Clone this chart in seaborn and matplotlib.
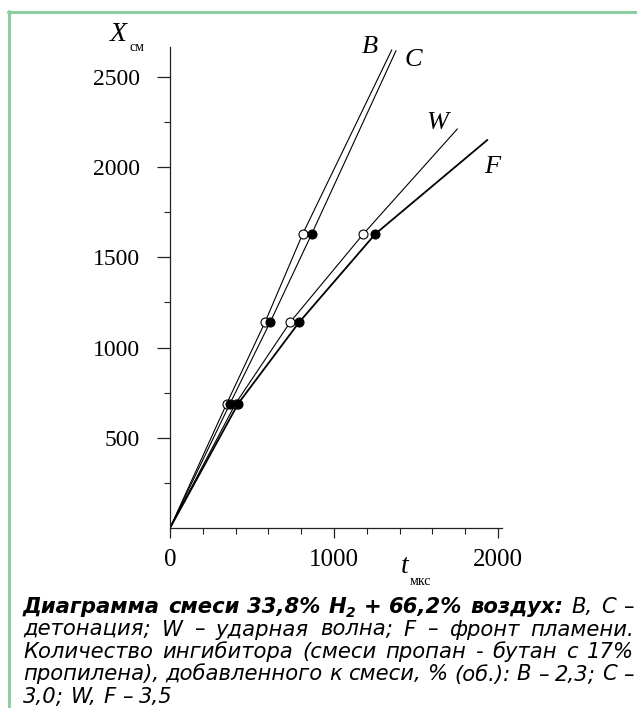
import matplotlib
matplotlib.use("Agg")
import matplotlib.pyplot as plt
from matplotlib.lines import Line2D
import seaborn as sns
import pandas as pd

# distance X (cm) at which the marked points were taken
dist_cm = [690, 1140, 1630]
# time t (mcs) of the marked points for each curve
t_B = [346, 579, 809]
t_C = [366, 610, 864]
t_W = [400, 732, 1179]
t_F = [416, 787, 1252]
# where each drawn curve ends (t, X)
end_t = [1352, 1378, 1752, 1935]
end_X = [2650, 2646, 2212, 2151]

curve_names = ["B", "C", "W", "F"]
open_marker = {"B": True, "C": False, "W": True, "F": False}
line_w = {"B": 0.8, "C": 0.8, "W": 0.8, "F": 1.3}
# curve name labels (t, X)
name_t = [1220, 1482, 1628, 1963]
name_X = [2666, 2594, 2245, 2001]

x_ticks = [0, 1000, 2000]
x_minor = [200, 400, 600, 800, 1200, 1400, 1600, 1800]
y_ticks = [500, 1000, 1500, 2000, 2500]
y_minor = [250, 750, 1250, 1750, 2250]

caption_head = ["Диаграмма", "смеси", "33,8%", "H", "2", "+", "66,2%", "воздух:"]
caption_lines = [
    "B, C –",
    "детонация; W – ударная волна; F – фронт пламени.",
    "Количество ингибитора (смеси пропан - бутан с 17%",
    "пропилена), добавленного к смеси, % (об.): B – 2,3; C –",
    "3,0; W, F – 3,5",
]

rows = []
for name, ts, te, xe in zip(curve_names, [t_B, t_C, t_W, t_F], end_t, end_X):
    rows.append((name, 0, 0, "origin"))
    for t, x in zip(ts, dist_cm):
        rows.append((name, t, x, "point"))
    rows.append((name, te, xe, "end"))
df = pd.DataFrame(rows, columns=["curve", "t", "X", "kind"])

sns.set_style("white")
plt.rcParams["font.family"] = ["Liberation Serif", "DejaVu Serif"]
plt.rcParams["text.color"] = "black"
plt.rcParams["xtick.color"] = "black"
plt.rcParams["ytick.color"] = "black"

W_PX, H_PX = 637, 708
fig = plt.figure(figsize=(W_PX / 100, H_PX / 100), dpi=100)
ax = fig.add_axes([170 / W_PX, 1 - 528 / H_PX, 332 / W_PX, 481 / H_PX])

for name in curve_names:
    sns.lineplot(data=df[df.curve == name], x="t", y="X", color="black",
                 lw=line_w[name], sort=False, estimator=None, ax=ax)

pts = df[df.kind == "point"]
for name in curve_names:
    sub = pts[pts.curve == name]
    if open_marker[name]:
        sns.scatterplot(data=sub, x="t", y="X", s=42, facecolor="white",
                        edgecolor="black", linewidth=0.8, ax=ax, zorder=3)
for name in curve_names:
    sub = pts[pts.curve == name]
    if not open_marker[name]:
        sns.scatterplot(data=sub, x="t", y="X", s=42, color="black",
                        edgecolor="black", linewidth=0.8, ax=ax, zorder=4)

for name, tx, xx in zip(curve_names, name_t, name_X):
    ax.text(tx, xx, name, fontsize=19, style="italic", ha="center", va="center",
            clip_on=False)

ax.set_xlim(0, 2024)
ax.set_ylim(0, 2666)
sns.despine(ax=ax)
for s in ["left", "bottom"]:
    ax.spines[s].set_color("#222222")
    ax.spines[s].set_linewidth(0.9)

ax.set_xticks(x_ticks)
ax.set_xticks(x_minor, minor=True)
ax.set_yticks(y_ticks)
ax.set_yticks(y_minor, minor=True)
ax.tick_params(axis="x", which="major", length=7, width=0.9, pad=8,
               labelsize=18, color="#222222", bottom=True)
ax.tick_params(axis="x", which="minor", length=4.3, width=0.8, color="#222222", bottom=True)
ax.tick_params(axis="y", which="major", length=9.4, width=0.9, pad=12,
               labelsize=17, color="#222222", left=True)
ax.tick_params(axis="y", which="minor", length=4.3, width=0.8, color="#222222", left=True)
ax.set_xlabel("")
ax.set_ylabel("")

ax.text(-317, 2738, "X", fontsize=20, style="italic", ha="center", va="center", clip_on=False)
ax.text(-201, 2661, "см", fontsize=10, ha="center", va="center", clip_on=False)
ax.text(1433, -211, "t", fontsize=20, style="italic", ha="center", va="center", clip_on=False)
ax.text(1524, -299, "мкс", fontsize=10, ha="center", va="center", clip_on=False)

# green frame
green = "#8ccea0"
fig.add_artist(Line2D([8.5 / W_PX, 8.5 / W_PX], [0, 1 - 11 / H_PX], color=green, lw=2.2,
                      transform=fig.transFigure))
fig.add_artist(Line2D([7.5 / W_PX, 1], [1 - 11.5 / H_PX, 1 - 11.5 / H_PX], color=green, lw=2.2,
                      transform=fig.transFigure))

# caption, justified between x0 and x1 (pixels)
renderer = fig.canvas.get_renderer()
FS = 15.2
bold = dict(family="DejaVu Sans", style="italic", weight="bold", size=FS, color="black")
ital = dict(family="DejaVu Sans", style="italic", size=FS, color="black")
subsc = dict(family="DejaVu Sans", style="italic", weight="bold", size=10, color="black")
X0, X1 = 23, 634
SPACE = 0.318 * FS * 100 / 72


def draw_line(tokens, base_px, justify=True):
    arts = []
    for txt, props, glue, dy in tokens:
        a = fig.text(0, 0, txt, va="baseline", ha="left", **props)
        arts.append((a, glue, dy))
    widths = [a.get_window_extent(renderer).width for a, _, _ in arts]
    ngaps = sum(1 for i, (_, g, _) in enumerate(arts) if i > 0 and not g)
    gap = SPACE
    if justify and ngaps:
        gap = (X1 - X0 - sum(widths)) / ngaps
    x = X0
    for i, ((a, glue, dy), w) in enumerate(zip(arts, widths)):
        if i > 0 and not glue:
            x += gap
        a.set_position((x / W_PX, 1 - (base_px - dy) / H_PX))
        x += w


head = []
for word in caption_head:
    if word == "2":
        head.append((word, subsc, True, -4))
    else:
        head.append((word, bold, False, 0))
head += [(w, ital, False, 0) for w in caption_lines[0].split()]
bases = [613, 635.5, 658, 680.5, 703]
draw_line(head, bases[0])
for k, line in enumerate(caption_lines[1:], start=1):
    toks = [(w, ital, False, 0) for w in line.split()]
    draw_line(toks, bases[k], justify=(k < 4))

fig.savefig("out.png", dpi=100, facecolor="white")
